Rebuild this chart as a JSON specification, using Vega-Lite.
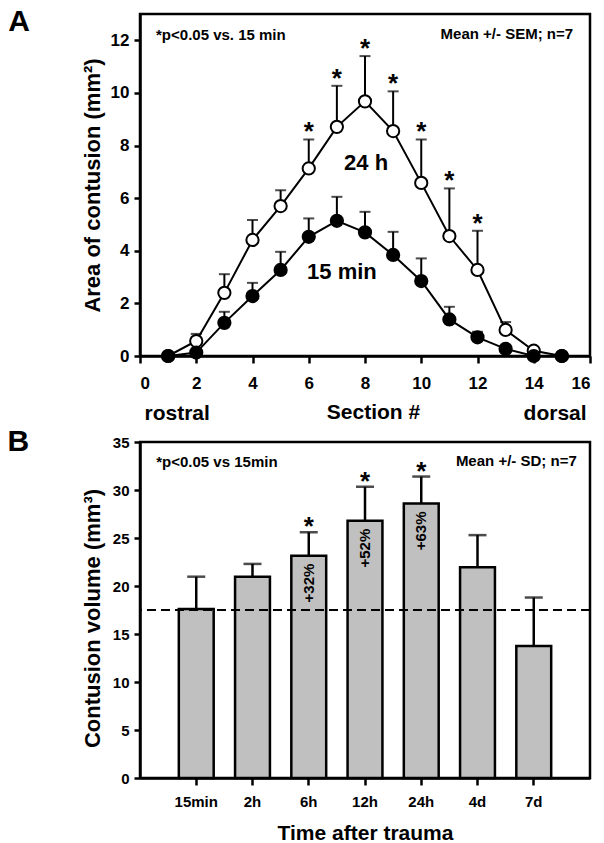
{
  "$schema": "https://vega.github.io/schema/vega-lite/v6.json",
  "background": "white",
  "padding": {"left": 6, "top": 5, "right": 5, "bottom": 5},
  "spacing": 86,
  "bounds": "flush",
  "config": {
    "view": {"stroke": "black", "strokeWidth": 2.5},
    "axis": {
      "grid": false,
      "domainColor": "black",
      "domainWidth": 2.5,
      "tickColor": "black",
      "tickWidth": 2.5,
      "labelFont": "Liberation Sans",
      "labelFontWeight": "bold",
      "labelColor": "black",
      "titleFont": "Liberation Sans",
      "titleFontWeight": "bold",
      "titleColor": "black",
      "labelOverlap": false
    },
    "text": {"font": "Liberation Sans", "fontWeight": "bold", "color": "black"}
  },
  "datasets": {
    "area": [
      {"section": 1, "group": "24 h", "mean": 0, "upper": 0, "sig": ""},
      {"section": 2, "group": "24 h", "mean": 0.57, "upper": 0.84, "sig": ""},
      {"section": 3, "group": "24 h", "mean": 2.40, "upper": 3.11, "sig": ""},
      {"section": 4, "group": "24 h", "mean": 4.41, "upper": 5.17, "sig": ""},
      {"section": 5, "group": "24 h", "mean": 5.70, "upper": 6.30, "sig": ""},
      {"section": 6, "group": "24 h", "mean": 7.13, "upper": 8.23, "sig": "*"},
      {"section": 7, "group": "24 h", "mean": 8.71, "upper": 10.27, "sig": "*"},
      {"section": 8, "group": "24 h", "mean": 9.68, "upper": 11.40, "sig": "*"},
      {"section": 9, "group": "24 h", "mean": 8.55, "upper": 10.06, "sig": "*"},
      {"section": 10, "group": "24 h", "mean": 6.58, "upper": 8.23, "sig": "*"},
      {"section": 11, "group": "24 h", "mean": 4.56, "upper": 6.37, "sig": "*"},
      {"section": 12, "group": "24 h", "mean": 3.27, "upper": 4.76, "sig": "*"},
      {"section": 13, "group": "24 h", "mean": 0.99, "upper": 1.29, "sig": ""},
      {"section": 14, "group": "24 h", "mean": 0.2, "upper": 0.28, "sig": ""},
      {"section": 15, "group": "24 h", "mean": 0, "upper": 0, "sig": ""},
      {"section": 1, "group": "15 min", "mean": 0, "upper": 0, "sig": ""},
      {"section": 2, "group": "15 min", "mean": 0.13, "upper": 0.13, "sig": ""},
      {"section": 3, "group": "15 min", "mean": 1.26, "upper": 1.68, "sig": ""},
      {"section": 4, "group": "15 min", "mean": 2.28, "upper": 2.78, "sig": ""},
      {"section": 5, "group": "15 min", "mean": 3.27, "upper": 3.96, "sig": ""},
      {"section": 6, "group": "15 min", "mean": 4.53, "upper": 5.23, "sig": ""},
      {"section": 7, "group": "15 min", "mean": 5.14, "upper": 6.05, "sig": ""},
      {"section": 8, "group": "15 min", "mean": 4.70, "upper": 5.48, "sig": ""},
      {"section": 9, "group": "15 min", "mean": 3.84, "upper": 4.72, "sig": ""},
      {"section": 10, "group": "15 min", "mean": 2.85, "upper": 3.71, "sig": ""},
      {"section": 11, "group": "15 min", "mean": 1.39, "upper": 1.87, "sig": ""},
      {"section": 12, "group": "15 min", "mean": 0.71, "upper": 0.92, "sig": ""},
      {"section": 13, "group": "15 min", "mean": 0.27, "upper": 0.27, "sig": ""},
      {"section": 14, "group": "15 min", "mean": 0, "upper": 0, "sig": ""},
      {"section": 15, "group": "15 min", "mean": 0, "upper": 0, "sig": ""}
    ],
    "notesA": [
      {"label": "24 h", "section": 8.04, "mean": 7.33},
      {"label": "15 min", "section": 7.18, "mean": 3.2},
      {"label": "*p<0.05 vs. 15 min", "section": 0.57, "mean": 12.2},
      {"label": "Mean +/- SEM; n=7", "section": 15.4, "mean": 12.25},
      {"label": "rostral", "section": 1.32, "mean": -2.42},
      {"label": "dorsal", "section": 14.76, "mean": -2.42},
      {"label": "A", "section": -4.3, "mean": 12.69}
    ],
    "volume": [
      {"time": "15min", "mean": 17.6, "upper": 20.97, "sig": "", "pct": ""},
      {"time": "2h", "mean": 20.97, "upper": 22.3, "sig": "", "pct": ""},
      {"time": "6h", "mean": 23.16, "upper": 25.6, "sig": "*", "pct": "+32%"},
      {"time": "12h", "mean": 26.8, "upper": 30.34, "sig": "*", "pct": "+52%"},
      {"time": "24h", "mean": 28.6, "upper": 31.4, "sig": "*", "pct": "+63%"},
      {"time": "4d", "mean": 21.95, "upper": 25.3, "sig": "", "pct": ""},
      {"time": "7d", "mean": 13.75, "upper": 18.8, "sig": "", "pct": ""}
    ],
    "notesB": [
      {"label": "*p<0.05 vs 15min", "time": "15min", "mean": 32.95},
      {"label": "Mean +/- SD; n=7", "time": "7d", "mean": 33.0},
      {"label": "B", "time": "15min", "mean": 35.05}
    ]
  },
  "vconcat": [
    {
      "width": 450,
      "height": 342,
      "data": {"name": "area"},
      "encoding": {
        "x": {
          "field": "section",
          "type": "quantitative",
          "scale": {"domain": [0, 16], "nice": false, "zero": false},
          "axis": {
            "values": [0, 2, 4, 6, 8, 10, 12, 14, 16],
            "title": "Section #",
            "titleFontSize": 21,
            "titleX": 233,
            "labelFontSize": 17,
            "tickSize": 7,
            "labelPadding": 12,
            "titlePadding": 10
          }
        },
        "y": {
          "field": "mean",
          "type": "quantitative",
          "scale": {"domain": [0, 13], "nice": false},
          "axis": {
            "values": [0, 2, 4, 6, 8, 10, 12],
            "title": "Area of contusion (mm²)",
            "titleFontSize": 22,
            "labelFontSize": 17,
            "tickSize": 6,
            "labelPadding": 5,
            "titlePadding": 6
          }
        }
      },
      "layer": [
        {
          "transform": [{"filter": "datum.upper > datum.mean"}],
          "mark": {"type": "rule", "color": "black", "strokeWidth": 2},
          "encoding": {"y2": {"field": "upper"}}
        },
        {
          "transform": [{"filter": "datum.upper > datum.mean + 0.05"}],
          "mark": {"type": "tick", "orient": "horizontal", "size": 11, "thickness": 2, "color": "black"},
          "encoding": {"y": {"field": "upper", "type": "quantitative"}}
        },
        {
          "mark": {"type": "line", "color": "black", "strokeWidth": 2},
          "encoding": {"detail": {"field": "group"}}
        },
        {
          "mark": {"type": "circle", "size": 150, "stroke": "black", "strokeWidth": 2, "opacity": 1},
          "encoding": {
            "fill": {
              "field": "group",
              "type": "nominal",
              "scale": {"domain": ["24 h", "15 min"], "range": ["white", "black"]},
              "legend": null
            }
          }
        },
        {
          "transform": [{"filter": "datum.sig != ''"}],
          "mark": {"type": "text", "fontSize": 26, "baseline": "alphabetic", "align": "center", "dy": 1},
          "encoding": {
            "y": {"field": "upper", "type": "quantitative"},
            "text": {"field": "sig"}
          }
        },
        {
          "data": {"name": "notesA"},
          "transform": [{"filter": "datum.label == '24 h' || datum.label == '15 min'"}],
          "mark": {"type": "text", "fontSize": 22, "baseline": "middle", "align": "center"},
          "encoding": {"text": {"field": "label"}}
        },
        {
          "data": {"name": "notesA"},
          "transform": [{"filter": "datum.label == '*p<0.05 vs. 15 min'"}],
          "mark": {"type": "text", "fontSize": 15, "baseline": "middle", "align": "left"},
          "encoding": {"text": {"field": "label"}}
        },
        {
          "data": {"name": "notesA"},
          "transform": [{"filter": "datum.label == 'Mean +/- SEM; n=7'"}],
          "mark": {"type": "text", "fontSize": 15, "baseline": "middle", "align": "right"},
          "encoding": {"text": {"field": "label"}}
        },
        {
          "data": {"name": "notesA"},
          "transform": [{"filter": "datum.label == 'rostral' || datum.label == 'dorsal'"}],
          "mark": {"type": "text", "fontSize": 21, "baseline": "alphabetic", "align": "center"},
          "encoding": {"text": {"field": "label"}}
        },
        {
          "data": {"name": "notesA"},
          "transform": [{"filter": "datum.label == 'A'"}],
          "mark": {"type": "text", "fontSize": 30, "baseline": "middle", "align": "center"},
          "encoding": {"text": {"field": "label"}}
        }
      ]
    },
    {
      "width": 450,
      "height": 336,
      "data": {"name": "volume"},
      "encoding": {
        "x": {
          "field": "time",
          "type": "ordinal",
          "sort": ["15min", "2h", "6h", "12h", "24h", "4d", "7d"],
          "scale": {"paddingInner": 0, "paddingOuter": 0.5},
          "axis": {
            "title": "Time after trauma",
            "titleFontSize": 21,
            "labelFontSize": 15,
            "labelAngle": 0,
            "tickSize": 7,
            "labelPadding": 9,
            "titlePadding": 13
          }
        },
        "y": {
          "field": "mean",
          "type": "quantitative",
          "scale": {"domain": [0, 35], "nice": false},
          "axis": {
            "values": [0, 5, 10, 15, 20, 25, 30, 35],
            "title": "Contusion volume (mm³)",
            "titleFontSize": 22,
            "titleY": 176,
            "labelFontSize": 15,
            "tickSize": 6,
            "labelPadding": 5,
            "titlePadding": 8
          }
        }
      },
      "layer": [
        {
          "mark": {"type": "rule", "color": "black", "strokeWidth": 2.5},
          "encoding": {"y2": {"field": "upper"}}
        },
        {
          "mark": {"type": "bar", "width": {"band": 0.62}, "fill": "#c0c0c0", "stroke": "black", "strokeWidth": 2.5}
        },
        {
          "mark": {"type": "tick", "size": 18, "thickness": 2.5, "color": "black"},
          "encoding": {"y": {"field": "upper", "type": "quantitative"}}
        },
        {
          "data": {"values": [{"ref": 17.5}]},
          "mark": {"type": "rule", "color": "black", "strokeWidth": 2, "strokeDash": [9, 5]},
          "encoding": {"x": null, "y": {"field": "ref", "type": "quantitative"}}
        },
        {
          "transform": [{"filter": "datum.sig != ''"}],
          "mark": {"type": "text", "fontSize": 26, "baseline": "alphabetic", "align": "center", "dy": 3},
          "encoding": {
            "y": {"field": "upper", "type": "quantitative"},
            "text": {"field": "sig"}
          }
        },
        {
          "transform": [{"filter": "datum.pct != ''"}],
          "mark": {"type": "text", "fontSize": 15, "angle": 270, "baseline": "middle", "align": "right", "dx": -8},
          "encoding": {"text": {"field": "pct"}}
        },
        {
          "data": {"name": "notesB"},
          "transform": [{"filter": "datum.label == '*p<0.05 vs 15min'"}],
          "mark": {"type": "text", "fontSize": 15, "baseline": "middle", "align": "left", "dx": -40},
          "encoding": {"text": {"field": "label"}}
        },
        {
          "data": {"name": "notesB"},
          "transform": [{"filter": "datum.label == 'Mean +/- SD; n=7'"}],
          "mark": {"type": "text", "fontSize": 15, "baseline": "middle", "align": "right", "dx": 43},
          "encoding": {"text": {"field": "label"}}
        },
        {
          "data": {"name": "notesB"},
          "transform": [{"filter": "datum.label == 'B'"}],
          "mark": {"type": "text", "fontSize": 30, "baseline": "middle", "align": "center", "dx": -178},
          "encoding": {"text": {"field": "label"}}
        }
      ]
    }
  ]
}
